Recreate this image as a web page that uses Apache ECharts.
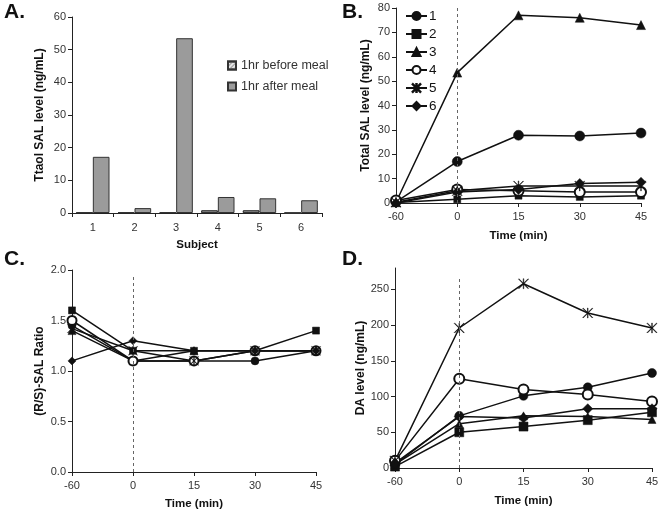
<!DOCTYPE html>
<html>
<head>
<meta charset="utf-8">
<script src="https://cdn.jsdelivr.net/npm/echarts@6/dist/echarts.min.js"></script>
<style>
html,body{margin:0;padding:0;background:#fff;}
#chart{width:662px;height:511px;}
</style>
</head>
<body>
<div id="chart"></div>
<script>
// ---- Data ----
const subjects = ['1', '2', '3', '4', '5', '6'];
const beforeMeal = [0.2, 0.2, 0.2, 0.8, 0.8, 0];
const afterMeal = [17.2, 1.5, 53.5, 4.9, 4.5, 3.9];

const times = ['-60', '0', '15', '30', '45'];
const seriesNames = ['1', '2', '3', '4', '5', '6'];

// Panel B: Total SAL level (ng/mL), per subject 1..6
const totalSAL = [
  [0.5, 17.0, 27.8, 27.5, 28.7],
  [0.2, 1.5, 3.0, 2.5, 3.0],
  [0.3, 53.5, 77.0, 76.0, 73.0],
  [1.0, 5.5, 5.0, 4.5, 4.5],
  [0.3, 5.0, 7.0, 7.0, 7.0],
  [0.0, 4.5, 5.5, 8.0, 8.5]
];
// Panel C: (R/S)-SAL ratio
const rsRatio = [
  [1.45, 1.1, 1.1, 1.1, 1.2],
  [1.6, 1.2, 1.2, 1.2, 1.4],
  [1.4, 1.1, 1.2, 1.2, 1.2],
  [1.5, 1.1, 1.1, 1.2, 1.2],
  [1.42, 1.2, 1.1, 1.2, 1.2],
  [1.1, 1.3, 1.2, 1.2, 1.2]
];
// Panel D: DA level (ng/mL)
const daLevel = [
  [5, 73, 101, 113, 133],
  [2, 50, 58, 67, 78],
  [5, 62, 73, 72, 68],
  [10, 125, 110, 103, 93],
  [10, 196, 258, 217, 196],
  [7, 72, 70, 83, 83]
];
const daTicks = [0, 50, 100, 150, 200, 250];

// ---- Styling ----
const FONT = 'Liberation Sans';
const asterisk = 'path://M9.4,0L10.6,0L10.6,20L9.4,20Z M0,0.85L0.85,0L20,19.15L19.15,20Z M19.15,0L20,0.85L0.85,20L0,19.15Z';
const symbols = ['circle', 'rect', 'triangle', 'emptyCircle', asterisk, 'diamond'];

function yAxisBase(grid, name, min, max, interval, nameGap, fmt) {
  return {
    gridIndex: grid, type: 'value', min: min, max: max, interval: interval,
    name: name, nameLocation: 'middle', nameGap: nameGap,
    nameTextStyle: {fontFamily: FONT, fontWeight: 'bold', fontSize: 12, color: '#111'},
    axisLine: {show: true, lineStyle: {color: '#222', width: 1}},
    axisTick: {show: true, inside: false, length: 4, lineStyle: {color: '#222'}},
    axisLabel: {fontFamily: FONT, fontSize: 11, color: '#333', margin: 6, formatter: fmt},
    splitLine: {show: false}
  };
}
function timeXAxis(grid, nameGap) {
  return {
    gridIndex: grid, type: 'category', data: times, boundaryGap: false,
    name: 'Time (min)', nameLocation: 'middle', nameGap: nameGap,
    nameTextStyle: {fontFamily: FONT, fontWeight: 'bold', fontSize: 11.5, color: '#111'},
    axisLine: {show: true, lineStyle: {color: '#222', width: 1}},
    axisTick: {show: true, inside: false, length: 4, lineStyle: {color: '#222'}},
    axisLabel: {fontFamily: FONT, fontSize: 11, color: '#333', margin: 8},
    splitLine: {show: false}
  };
}

function lineSeries(values, axisIdx, sizes, markTop) {
  return values.map((vals, i) => {
    const s = {
      type: 'line', name: seriesNames[i], xAxisIndex: axisIdx, yAxisIndex: axisIdx,
      data: vals, symbol: symbols[i], symbolSize: sizes[i], showSymbol: true,
      lineStyle: {color: '#111', width: 1.5},
      itemStyle: {color: '#111', borderColor: '#111', borderWidth: i === 3 ? 1.3 : 0.5},
      emphasis: {disabled: true},
      z: 3
    };
    if (i === 0) {
      s.markLine = {
        silent: true, symbol: 'none', animation: false,
        label: {show: false},
        lineStyle: {color: '#666', type: [3, 3], width: 1},
        data: [[{coord: [1, 0]}, {coord: [1, markTop]}]]
      };
    }
    return s;
  });
}

const chart = echarts.init(document.getElementById('chart'));

const option = {
  animation: false,
  backgroundColor: '#fff',
  textStyle: {fontFamily: FONT},
  grid: [
    {left: 72, top: 17, width: 250, height: 196},
    {left: 396, top: 8, width: 245, height: 195},
    {left: 72, top: 270, width: 244, height: 203},
    {left: 395, top: 268, width: 257, height: 200}
  ],
  legend: [
    {
      data: ['1hr before meal', '1hr after meal'], orient: 'vertical',
      left: 222, top: 54, itemWidth: 8, itemHeight: 8, itemGap: 8, icon: 'rect',
      textStyle: {fontFamily: FONT, fontSize: 12.5, color: '#333'}, selectedMode: false
    },
    {
      data: seriesNames, orient: 'vertical',
      left: 400, top: 4, itemWidth: 21, itemHeight: 10, itemGap: 4,
      textStyle: {fontFamily: FONT, fontSize: 13.5, color: '#111', lineHeight: 14, padding: [0, 0, 0, -3]}, selectedMode: false
    }
  ],
  xAxis: [
    {
      gridIndex: 0, type: 'category', data: subjects,
      name: 'Subject', nameLocation: 'middle', nameGap: 26,
      nameTextStyle: {fontFamily: FONT, fontWeight: 'bold', fontSize: 11.5, color: '#111'},
      axisLine: {show: true, lineStyle: {color: '#222', width: 1}},
      axisTick: {show: true, inside: false, length: 4, lineStyle: {color: '#222'}},
      axisLabel: {fontFamily: FONT, fontSize: 11, color: '#333', margin: 9},
      splitLine: {show: false}
    },
    timeXAxis(1, 27),
    timeXAxis(2, 26),
    timeXAxis(3, 27)
  ],
  yAxis: [
    yAxisBase(0, 'Ttaol SAL level (ng/mL)', 0, 60, 10, 26),
    yAxisBase(1, 'Total SAL level (ng/mL)', 0, 80, 10, 24),
    yAxisBase(2, '(R/S)-SAL Ratio', 0, 2, 0.5, 26, v => v.toFixed(1)),
    Object.assign(yAxisBase(3, 'DA level (ng/mL)', 0, 280, 50, 26), {
      axisLabel: {fontFamily: FONT, fontSize: 11, color: '#333', margin: 6, customValues: daTicks},
      axisTick: {show: true, inside: false, length: 4, lineStyle: {color: '#222'}, customValues: daTicks}
    })
  ],
  graphic: [
    {type: 'text', left: 4, top: 2, style: {text: 'A.', font: 'bold 21px "Liberation Sans"', fill: '#111'}},
    {type: 'text', left: 342, top: 2, style: {text: 'B.', font: 'bold 21px "Liberation Sans"', fill: '#111'}},
    {type: 'text', left: 4, top: 249, style: {text: 'C.', font: 'bold 21px "Liberation Sans"', fill: '#111'}},
    {type: 'text', left: 342, top: 249, style: {text: 'D.', font: 'bold 21px "Liberation Sans"', fill: '#111'}}
  ],
  series: [
    {
      type: 'bar', name: '1hr before meal', xAxisIndex: 0, yAxisIndex: 0, data: beforeMeal,
      barGap: '0%', barCategoryGap: '20%',
      itemStyle: {
        color: '#e4e4e4', borderColor: '#333', borderWidth: 1,
        decal: {symbol: 'rect', symbolSize: 1, dashArrayX: [1, 0], dashArrayY: [1, 2], rotation: -Math.PI / 4, color: '#999'}
      }
    },
    {
      type: 'bar', name: '1hr after meal', xAxisIndex: 0, yAxisIndex: 0, data: afterMeal,
      barGap: '0%', barCategoryGap: '20%',
      itemStyle: {color: '#9b9b9b', borderColor: '#333', borderWidth: 1}
    }
  ]
    .concat(lineSeries(totalSAL, 1, [10, 7, 9, 10, 10, 10], 80))
    .concat(lineSeries(rsRatio, 2, [8, 7, 8, 9, 9, 8], 1.95))
    .concat(lineSeries(daLevel, 3, [9, 9, 8, 10, 10, 10], 268))
};
chart.setOption(option);
</script>
</body>
</html>
